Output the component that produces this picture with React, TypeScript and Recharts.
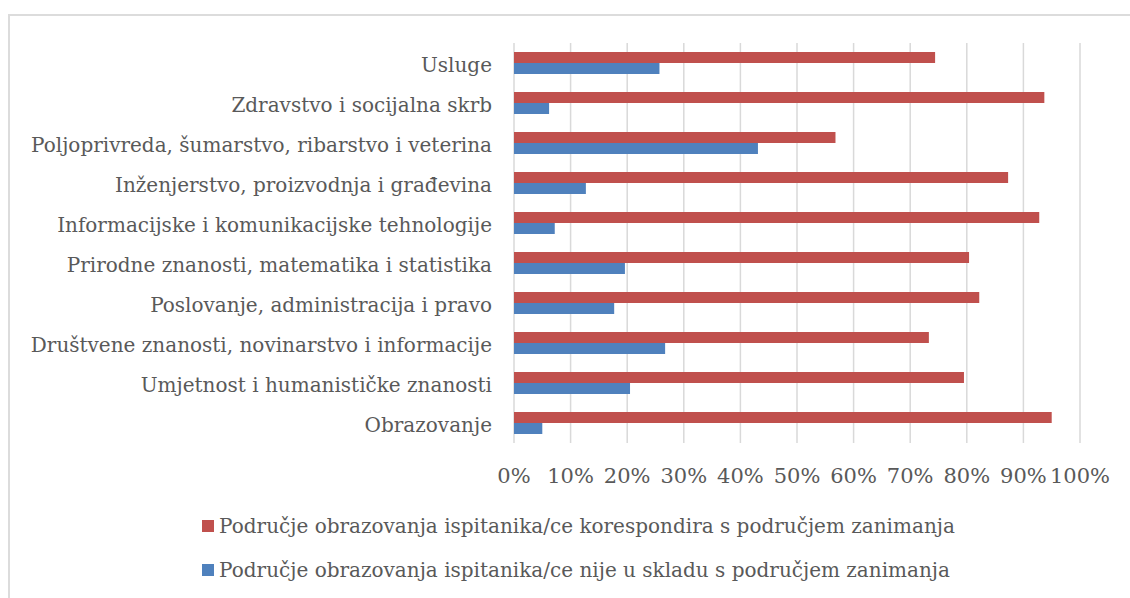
import { BarChart, Bar, XAxis, YAxis, CartesianGrid, Legend } from 'recharts'

const categories = [
  'Usluge',
  'Zdravstvo i socijalna skrb',
  'Poljoprivreda, šumarstvo, ribarstvo i veterina',
  'Inženjerstvo, proizvodnja i građevina',
  'Informacijske i komunikacijske tehnologije',
  'Prirodne znanosti, matematika i statistika',
  'Poslovanje, administracija i pravo',
  'Društvene znanosti, novinarstvo i informacije',
  'Umjetnost i humanističke znanosti',
  'Obrazovanje',
]
const corresponds = [74.4, 93.7, 56.8, 87.3, 92.8, 80.4, 82.2, 73.3, 79.5, 95.0]
const notAligned = [25.7, 6.2, 43.1, 12.7, 7.2, 19.6, 17.7, 26.7, 20.5, 5.0]
const xTicks = [0, 10, 20, 30, 40, 50, 60, 70, 80, 90, 100]

const seriesNames = [
  'Područje obrazovanja ispitanika/ce korespondira s područjem zanimanja',
  'Područje obrazovanja ispitanika/ce nije u skladu s područjem zanimanja',
]

const RED = '#C0504D'
const BLUE = '#4F81BD'
const TEXT = '#595959'
const FONT = '"DejaVu Serif", serif'

const data = categories.map((name, i) => ({
  name,
  yes: corresponds[i],
  no: notAligned[i],
}))

// legend box is 25 + 19 + 25 = 69px tall, recharts takes that off the plot
function LegendBox() {
  const items = [
    { label: seriesNames[0], color: RED },
    { label: seriesNames[1], color: BLUE },
  ]
  return (
    <div style={{ display: 'flex', justifyContent: 'center' }}>
      <div style={{ display: 'flex', flexDirection: 'column', gap: 19 }}>
        {items.map((it) => (
          <div key={it.label} style={{ display: 'flex', alignItems: 'center', height: 25 }}>
            <span style={{ width: 12, height: 12, background: it.color, marginRight: 5, flex: 'none' }} />
            <span style={{ fontFamily: FONT, fontSize: 20, color: TEXT, whiteSpace: 'nowrap' }}>{it.label}</span>
          </div>
        ))}
      </div>
    </div>
  )
}

export default function App() {
  return (
    <div style={{ position: 'absolute', left: 0, top: 0, width: 1130, height: 598, background: '#fff' }}>
      <div
        style={{
          position: 'absolute',
          left: 8,
          top: 14,
          width: 1140,
          height: 600,
          borderLeft: '2px solid #dcdcdc',
          borderTop: '2px solid #dcdcdc',
        }}
      />
      <BarChart
        width={1130}
        height={598}
        data={data}
        layout="vertical"
        margin={{ top: 43, right: 50, left: 0, bottom: 0 }}
        barGap={0}
        style={{ position: 'absolute', left: 0, top: 0 }}
      >
        <CartesianGrid horizontal={false} stroke="#d9d9d9" strokeWidth={1.5} />
        <XAxis
          type="number"
          domain={[0, 100]}
          ticks={xTicks}
          interval={0}
          tickFormatter={(v) => `${v}%`}
          tick={{ fontSize: 21, fill: TEXT, fontFamily: FONT }}
          tickLine={false}
          tickSize={0}
          tickMargin={25}
          axisLine={false}
          height={86}
        />
        <YAxis
          type="category"
          dataKey="name"
          width={514}
          interval={0}
          tick={{ fontSize: 20, fill: TEXT, fontFamily: FONT, dy: 2 }}
          tickLine={false}
          tickSize={0}
          tickMargin={22}
          axisLine={false}
        />
        <Legend
          content={() => <LegendBox />}
          wrapperStyle={{ top: 513, left: 0, width: 1157 }}
        />
        <Bar dataKey="yes" name={seriesNames[0]} fill={RED} barSize={11} isAnimationActive={false} />
        <Bar dataKey="no" name={seriesNames[1]} fill={BLUE} barSize={11} isAnimationActive={false} />
      </BarChart>
    </div>
  )
}
